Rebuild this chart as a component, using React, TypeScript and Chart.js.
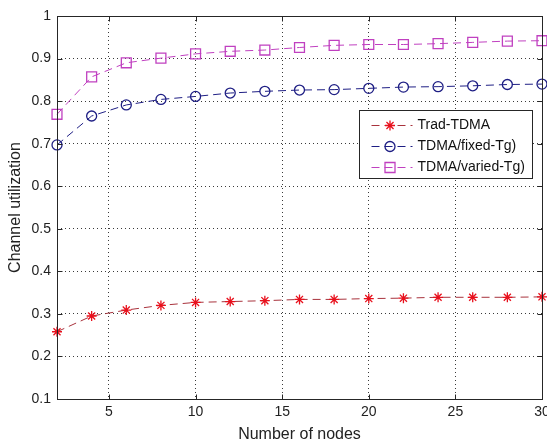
import React, { useEffect, useRef } from "react";
import { Chart, registerables } from "chart.js";

Chart.register(...registerables);

const NODES = [2, 4, 6, 8, 10, 12, 14, 16, 18, 20, 22, 24, 26, 28, 30];
const TRAD_TDMA = [0.258, 0.295, 0.309, 0.320, 0.327, 0.329, 0.331, 0.334, 0.334, 0.336, 0.337, 0.339, 0.339, 0.339, 0.340];
const TDMA_FIXED = [0.697, 0.765, 0.791, 0.804, 0.811, 0.819, 0.823, 0.826, 0.827, 0.830, 0.833, 0.834, 0.836, 0.839, 0.840];
const TDMA_VARIED = [0.769, 0.857, 0.890, 0.901, 0.911, 0.917, 0.920, 0.926, 0.931, 0.933, 0.933, 0.935, 0.938, 0.941, 0.942];
const X_TICKS = [5, 10, 15, 20, 25, 30];
const Y_TICKS = [0.1, 0.2, 0.3, 0.4, 0.5, 0.6, 0.7, 0.8, 0.9, 1];
const SERIES_LABELS = ["Trad-TDMA", "TDMA/fixed-Tg)", "TDMA/varied-Tg)"];
const X_TITLE = "Number of nodes";
const Y_TITLE = "Channel utilization";

const FONT = "'Liberation Sans', Arial, Helvetica, sans-serif";
const RED_LINE = "#a8323c";
const RED_MARK = "#e8101c";
const BLUE = "#1e1e84";
const MAGENTA = "#c040c0";
const DASH = [8, 5];

function drawMarker(ctx: CanvasRenderingContext2D, kind: string, x: number, y: number, color: string) {
  ctx.save();
  ctx.setLineDash([]);
  ctx.strokeStyle = color;
  ctx.lineWidth = 1.3;
  ctx.beginPath();
  if (kind === "star") {
    const r = 5;
    const d = r * Math.SQRT1_2;
    ctx.moveTo(x - r, y); ctx.lineTo(x + r, y);
    ctx.moveTo(x, y - r); ctx.lineTo(x, y + r);
    ctx.moveTo(x - d, y - d); ctx.lineTo(x + d, y + d);
    ctx.moveTo(x - d, y + d); ctx.lineTo(x + d, y - d);
    ctx.stroke();
  } else if (kind === "circle") {
    ctx.arc(x, y, 5, 0, Math.PI * 2);
    ctx.stroke();
  } else {
    const s = 5;
    ctx.rect(x - s, y - s, 2 * s, 2 * s);
    ctx.stroke();
  }
  ctx.restore();
}

const framePlugin = {
  id: "matlabFrame",
  afterDraw(chart: any) {
    const { ctx, chartArea: a, scales } = chart;
    ctx.save();
    ctx.setLineDash([]);
    ctx.strokeStyle = "#262626";
    ctx.lineWidth = 1;
    const L = Math.round(a.left) + 0.5;
    const R = Math.round(a.right) + 0.5;
    const T = Math.round(a.top) + 0.5;
    const B = Math.round(a.bottom) + 0.5;
    ctx.strokeRect(L, T, R - L, B - T);
    const tl = 5;
    ctx.beginPath();
    X_TICKS.forEach((v) => {
      const x = Math.round(scales.x.getPixelForValue(v)) + 0.5;
      ctx.moveTo(x, B); ctx.lineTo(x, B - tl);
      ctx.moveTo(x, T); ctx.lineTo(x, T + tl);
    });
    Y_TICKS.forEach((v) => {
      const y = Math.round(scales.y.getPixelForValue(v)) + 0.5;
      ctx.moveTo(L, y); ctx.lineTo(L + tl, y);
      ctx.moveTo(R, y); ctx.lineTo(R - tl, y);
    });
    ctx.stroke();

    // legend
    const bx = Math.round(a.right - 183) + 0.5;
    const by = Math.round(a.top + 94) + 0.5;
    const bw = 173;
    const bh = 68;
    ctx.fillStyle = "#ffffff";
    ctx.fillRect(bx, by, bw, bh);
    ctx.strokeStyle = "#262626";
    ctx.strokeRect(bx, by, bw, bh);
    const rows = [
      { label: SERIES_LABELS[0], line: RED_LINE, mark: RED_MARK, kind: "star" },
      { label: SERIES_LABELS[1], line: BLUE, mark: BLUE, kind: "circle" },
      { label: SERIES_LABELS[2], line: MAGENTA, mark: MAGENTA, kind: "rect" },
    ];
    ctx.font = `14px ${FONT}`;
    ctx.textBaseline = "middle";
    ctx.textAlign = "left";
    rows.forEach((r, i) => {
      const y = Math.round(by + 14 + i * 21) + 0.5;
      const x0 = bx + 12;
      const x1 = bx + 53;
      ctx.strokeStyle = r.line;
      ctx.lineWidth = 1;
      ctx.setLineDash(DASH);
      ctx.beginPath();
      ctx.moveTo(x0, y); ctx.lineTo(x1, y);
      ctx.stroke();
      drawMarker(ctx, r.kind, (x0 + x1) / 2 - 2, y, r.mark);
      ctx.fillStyle = "#111111";
      ctx.fillText(r.label, bx + 58, y);
    });
    ctx.restore();
  },
};

export default function App() {
  const ref = useRef<HTMLCanvasElement | null>(null);
  useEffect(() => {
    if (!ref.current) return;
    const mk = (label: string, data: number[], line: string, mark: string, style: any, radius: number) => ({
      label,
      data: NODES.map((x, i) => ({ x, y: data[i] })),
      borderColor: line,
      backgroundColor: "rgba(0,0,0,0)",
      borderWidth: 1,
      borderDash: DASH,
      pointStyle: style,
      pointRadius: radius,
      pointBorderColor: mark,
      pointBackgroundColor: "rgba(0,0,0,0)",
      pointBorderWidth: 1.3,
      tension: 0,
      clip: false,
    });
    const chart = new Chart(ref.current, {
      type: "line",
      data: {
        datasets: [
          mk(SERIES_LABELS[0], TRAD_TDMA, RED_LINE, RED_MARK, "star", 5),
          mk(SERIES_LABELS[1], TDMA_FIXED, BLUE, BLUE, "circle", 5),
          mk(SERIES_LABELS[2], TDMA_VARIED, MAGENTA, MAGENTA, "rect", 7),
        ] as any,
      },
      options: {
        animation: false,
        responsive: false,
        devicePixelRatio: 1,
        layout: { padding: { top: 16, right: 18, left: 0, bottom: 0 } },
        plugins: { legend: { display: false }, tooltip: { enabled: false } },
        scales: {
          x: {
            type: "linear",
            min: 2,
            max: 30,
            afterBuildTicks: (s: any) => {
              s.ticks = X_TICKS.map((v) => ({ value: v }));
            },
            afterFit: (s: any) => {
              s.height = 45;
              s.paddingLeft = 0;
              s.paddingRight = 0;
            },
            grid: { color: "#3a3a3a", lineWidth: 1, drawTicks: false, tickLength: 0 },
            border: { display: false, dash: [1, 3] },
            ticks: {
              color: "#222",
              padding: 5,
              maxRotation: 0,
              autoSkip: false,
              font: { family: FONT, size: 14 },
              callback: (v: any) => String(v),
            },
            title: {
              display: true,
              text: X_TITLE,
              color: "#222",
              font: { family: FONT, size: 16 },
              padding: { top: 0, bottom: 0 },
            },
          },
          y: {
            type: "linear",
            min: 0.1,
            max: 1,
            afterBuildTicks: (s: any) => {
              s.ticks = Y_TICKS.map((v) => ({ value: v }));
            },
            afterFit: (s: any) => {
              s.width = 57;
              s.paddingTop = 0;
              s.paddingBottom = 0;
            },
            grid: { color: "#3a3a3a", lineWidth: 1, drawTicks: false, tickLength: 0 },
            border: { display: false, dash: [1, 3] },
            ticks: {
              color: "#222",
              padding: 6,
              autoSkip: false,
              font: { family: FONT, size: 14 },
              callback: (v: any) => String(Number(Number(v).toFixed(1))),
            },
            title: {
              display: true,
              text: Y_TITLE,
              color: "#222",
              font: { family: FONT, size: 16 },
              padding: { top: 6, bottom: 0 },
            },
          },
        },
      } as any,
      plugins: [framePlugin],
    });
    return () => chart.destroy();
  }, []);
  return (
    <div style={{ position: "fixed", left: 0, top: 0, width: 560, height: 444, background: "#fff" }}>
      <canvas ref={ref} width={560} height={444} style={{ width: 560, height: 444, display: "block" }} />
    </div>
  );
}
